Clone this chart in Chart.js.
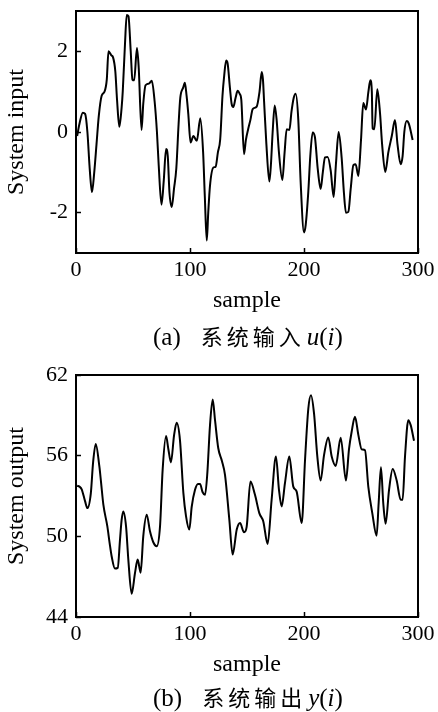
<!DOCTYPE html>
<html><head><meta charset="utf-8">
<script src="https://cdn.jsdelivr.net/npm/chart.js@4.4.1/dist/chart.umd.min.js"></script>
<style>
html,body{margin:0;padding:0;background:#fff;width:438px;height:712px;overflow:hidden;}
.box{position:absolute;left:0;width:438px;height:320px;}
.cap{position:absolute;left:153px;font-family:"Liberation Serif","Times New Roman",serif;font-size:25px;color:#000;white-space:nowrap;line-height:28px;}
.cn{font-family:"Noto Sans CJK SC",sans-serif;font-size:22px;letter-spacing:4px;margin-left:20px;margin-right:2px;}
</style></head><body>
<div class="box" style="top:0"><canvas id="c1" width="438" height="320"></canvas></div>
<div class="cap" style="top:321px">(a)<span class="cn">系统输入</span><i>u</i>(<i>i</i>)</div>
<div class="box" style="top:364px"><canvas id="c2" width="438" height="320"></canvas></div>
<div class="cap" style="top:682px">(b)<span class="cn">系统输出</span><i>y</i>(<i>i</i>)</div>
<script>
// ---- data ----
const inputSamples = [1,3,6,8,10,12,14,16,18,20,22.5,25,27,28.5,31,32.5,34.5,36,38,40,41,43,44.5,46,48,49.5,51,53.5,55,57.5,59,61,64,66.5,69,71,72.5,75,77,79,80.5,82,84,86,88,90,91.5,94,95.5,97,98.5,100.5,103,106,109,111.5,113,114.7,116,117.5,120.5,122.5,124.5,126.5,128.5,130,131.7,133,135,136.5,138,140,141.8,143.5,145,147.4,149,151,153,155,158.5,161,162.9,164,165,167,169.6,171,172.5,174.3,176,178,181,183,184.8,187.2,189,191,192.7,195,197,200,201.5,203.8,205.5,207.6,209.6,212,214.6,216.5,218.4,220.7,223.4,226,228,230.4,233,235,236.8,238.9,241,243.3,245.3,247.7,250,252,254.4,256.5,258.2,259.5,260.2,261.7,264.3,266.7,268.5,271.3,274,277,279.8,282,284.8,286.5,288,290.1,292,295.3];
const inputValues = [-0.1,0.2,0.48,0.45,0.0,-0.9,-1.49,-1.0,-0.3,0.4,0.9,1.0,1.3,2.0,1.9,1.85,1.5,0.8,0.13,0.6,1.0,2.2,2.9,2.87,2.0,1.3,1.28,2.08,1.6,0.05,0.7,1.16,1.2,1.27,0.75,0.0,-0.8,-1.8,-1.2,-0.42,-0.6,-1.5,-1.86,-1.4,-0.9,0.2,0.85,1.1,1.22,0.9,0.45,-0.26,-0.1,-0.22,0.34,-0.5,-1.6,-2.69,-2.0,-1.34,-0.88,-0.86,-0.5,-0.18,0.9,1.4,1.77,1.7,1.1,0.7,0.62,0.85,1.02,0.95,0.8,-0.55,-0.2,0.07,0.3,0.57,0.63,1.0,1.49,1.3,0.75,-0.3,-1.23,-0.8,0.0,0.66,0.3,-0.5,-1.19,-0.5,0.07,0.05,0.5,0.85,0.95,0.3,-1.2,-2.49,-2.3,-1.47,-0.6,-0.01,-0.13,-0.9,-1.41,-1.0,-0.63,-0.62,-0.95,-1.61,-0.8,0.0,-0.63,-1.5,-2.0,-1.98,-1.4,-0.82,-0.8,-1.09,-0.2,0.72,0.56,1.0,1.28,1.0,0.09,0.07,1.06,0.46,-0.3,-0.99,-0.5,-0.1,0.3,-0.3,-0.8,-0.6,0.0,0.27,0.2,-0.2];

const outputSamples = [1,3,5,8,10,13,15,17.3,20.5,22,24,27.5,29.5,31.3,34.2,36.6,38.6,40,41.5,43.9,45.9,48.8,51.8,54.1,56.7,59,62,64.9,67.8,70.8,73.7,76,79,81,83.3,86,88.3,91.2,94.2,96.5,99.4,101.5,104.4,107,108.8,111,113.2,115.2,117.5,119.9,122,124.8,128,130.7,134.5,137.4,141,143.9,147.4,149.7,153,157,160.8,164.3,168.1,171.6,175.4,178,180.4,183.3,187.1,190.6,193.5,198,200.9,203.8,206.1,208.8,211.7,214.6,217.5,221.3,224.3,227.8,232.2,236.8,239.5,241.8,244.7,247.7,250.6,253.5,256.4,259.9,263.7,265.5,267.5,269.5,271.6,274.6,277.8,281.3,284.8,286.5,288.6,291.5,293.6,296.5];
const outputValues = [53.76,53.7,53.5,52.6,52.1,53.2,55.5,56.87,55.2,54.0,52.35,50.74,49.5,48.5,47.6,47.65,49.75,51.2,51.85,50.74,48.27,45.73,47.3,48.27,47.3,50.0,51.6,50.37,49.56,49.26,50.74,54.94,57.46,56.5,55.5,57.5,58.44,57.16,53.21,51.5,50.5,52.2,53.46,53.9,53.9,53.3,53.09,54.7,58.2,60.18,58.6,56.55,55.6,54.57,51.24,48.64,50.5,50.99,50.3,50.7,54.08,53.09,51.73,51.11,49.43,52.72,55.93,53.5,52.22,53.96,55.93,53.7,53.34,50.99,55.68,59.51,60.5,59.14,55.93,54.15,56.0,57.36,55.93,55.24,57.34,54.15,56.5,57.78,58.89,57.53,56.47,56.4,53.7,51.73,50.05,52.5,55.14,52.5,50.94,53.46,55.01,54.15,52.72,52.72,55.93,58.64,58.27,57.11];

const xTicks = [0,100,200,300];
const inputTicks = [-2,0,2];
const outputTicks = [44,50,56,62];

// ---- drawing ----
const SERIF = "'Liberation Serif','Times New Roman',serif";
const framePlugin = {
  id:'frame',
  afterDraw(chart){
    const {ctx, chartArea:a} = chart;
    ctx.save();
    ctx.strokeStyle = '#000';
    ctx.lineWidth = 2;
    ctx.strokeRect(a.left, a.top, a.right - a.left, a.bottom - a.top);
    ctx.restore();
  }
};

function makeChart(id, xs, ys, yMin, yMax, yTickList, yTitle){
  const pts = xs.map((x,i)=>({x:x, y:ys[i]}));
  return new Chart(document.getElementById(id), {
    type:'line',
    data:{datasets:[{data:pts, borderColor:'#000', borderWidth:2, pointRadius:0, fill:false, cubicInterpolationMode:'monotone'}]},
    options:{
      responsive:false, animation:false, devicePixelRatio:1,
      layout:{padding:{top:11,right:20,left:0,bottom:0}},
      plugins:{legend:{display:false}, tooltip:{enabled:false}},
      scales:{
        x:{type:'linear', min:0, max:300,
          afterBuildTicks(s){ s.ticks = xTicks.map(v=>({value:v})); },
          afterFit(s){ s.height = 67; s.paddingLeft = 0; s.paddingRight = 0; },
          border:{display:false},
          grid:{drawOnChartArea:false, drawTicks:true, tickLength:-5, color:'#000', tickWidth:1.5},
          ticks:{padding:9, color:'#000', font:{family:SERIF, size:22}, maxRotation:0, autoSkip:false},
          title:{display:true, text:'sample', color:'#000', font:{family:SERIF, size:24}, padding:{top:0,bottom:5}}
        },
        y:{type:'linear', min:yMin, max:yMax,
          afterBuildTicks(s){ s.ticks = yTickList.map(v=>({value:v})); },
          afterFit(s){ s.width = 76; s.paddingTop = 0; s.paddingBottom = 0; },
          border:{display:false},
          grid:{drawOnChartArea:false, drawTicks:true, tickLength:-5, color:'#000', tickWidth:1.5},
          ticks:{padding:13, color:'#000', font:{family:SERIF, size:22}, autoSkip:false},
          title:{display:true, text:yTitle, color:'#000', font:{family:SERIF, size:24}, padding:{top:2,bottom:0}}
        }
      }
    },
    plugins:[framePlugin]
  });
}

makeChart('c1', inputSamples, inputValues, -3, 3, inputTicks, 'System input');
makeChart('c2', outputSamples, outputValues, 44, 62, outputTicks, 'System output');
</script>
</body></html>
